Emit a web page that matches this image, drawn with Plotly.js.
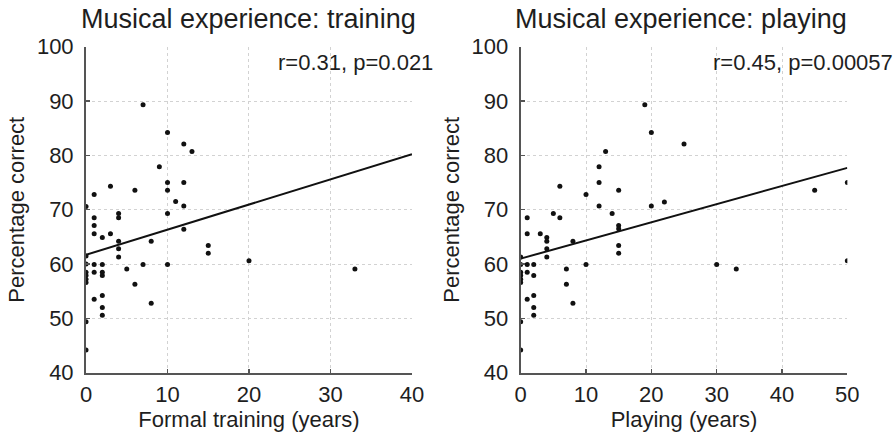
<!DOCTYPE html>
<html>
<head>
<meta charset="utf-8">
<script src="https://cdn.plot.ly/plotly-3.0.1.min.js"></script>
<style>
html,body{margin:0;padding:0;background:#fff;}
#chart{width:896px;height:437px;}
</style>
</head>
<body>
<div id="chart"></div>
<script>
// Panel 1: formal training (years) vs percentage correct
const trainX = [0,0,0,0,0,0,0,0,0,
  1,1,1,1,1,1,1,
  2,2,2,2,2,2,2,
  3,3,
  4,4,4,4,4,
  5,
  6,6,
  7,7,
  8,8,
  9,
  10,10,10,10,10,
  11,
  12,12,12,12,
  13,
  15,15,
  20,
  33];
const trainY = [70.6,61.5,60.0,58.5,57.9,57.2,56.6,49.4,44.2,
  72.8,68.5,67.1,65.6,59.9,58.5,53.5,
  64.9,59.9,58.5,57.9,54.2,52.0,50.6,
  74.3,65.6,
  69.3,68.5,64.2,62.8,61.3,
  59.1,
  73.6,56.3,
  89.3,59.9,
  64.2,52.8,
  77.9,
  84.2,75.0,73.6,69.3,59.9,
  71.5,
  82.1,75.0,70.7,66.4,
  80.7,
  63.4,62.0,
  60.6,
  59.1];
const trainFitX = [0, 40];
const trainFitY = [61.7, 80.2];
const trainStat = "r=0.31, p=0.021";

// Panel 2: playing (years) vs percentage correct
const playX = [0,0,0,0,0,0,0,0,
  1,1,1,1,1,
  2,2,2,2,2,
  3,
  4,4,4,4,
  5,
  6,6,
  7,7,
  8,8,
  10,10,
  12,12,12,
  13,
  14,
  15,15,15,15,15,
  19,
  20,20,
  22,
  25,
  30,
  33,
  45,
  50,50];
const playY = [61.3,59.9,58.5,57.9,57.2,56.6,49.4,44.2,
  68.5,65.6,59.9,58.5,53.5,
  59.9,57.9,54.2,52.0,50.6,
  65.6,
  64.9,64.2,62.8,61.3,
  69.3,
  74.3,68.5,
  59.1,56.3,
  64.2,52.8,
  72.8,59.9,
  77.9,75.0,70.7,
  80.7,
  69.3,
  73.6,67.1,66.5,63.4,62.0,
  89.3,
  84.2,70.7,
  71.4,
  82.1,
  59.9,
  59.1,
  73.6,
  75.0,60.6];
const playFitX = [0, 50];
const playFitY = [61.0, 77.7];
const playStat = "r=0.45, p=0.00057";

const titles = ["Musical experience: training", "Musical experience: playing"];
const xTitles = ["Formal training (years)", "Playing (years)"];
const yTitle = "Percentage correct";

const FONT = "Liberation Sans, Arial, sans-serif";
const TXT = "#1e1e1e";

const marker = {color: "#111", size: 5};
const lineStyle = {color: "#111", width: 2};

const traces = [
  {x: trainX, y: trainY, mode: "markers", type: "scatter", marker: marker, xaxis: "x", yaxis: "y", hoverinfo: "x+y"},
  {x: trainFitX, y: trainFitY, mode: "lines", type: "scatter", line: lineStyle, xaxis: "x", yaxis: "y"},
  {x: playX, y: playY, mode: "markers", type: "scatter", marker: marker, xaxis: "x2", yaxis: "y2", hoverinfo: "x+y"},
  {x: playFitX, y: playFitY, mode: "lines", type: "scatter", line: lineStyle, xaxis: "x2", yaxis: "y2"}
];

function xAxis(domain, range, dtick, title, anchor) {
  return {
    domain: domain, range: range, dtick: dtick, tick0: 0, anchor: anchor,
    showgrid: true, gridcolor: "#d2d2d2", griddash: "dot", gridwidth: 1,
    showline: true, linecolor: "#555", linewidth: 2,
    ticks: "inside", ticklen: 4, tickwidth: 1.5, tickcolor: "#555",
    zeroline: false, fixedrange: true,
    tickfont: {family: FONT, size: 22, color: TXT},
    ticklabelstandoff: 1,
    title: {text: title, font: {family: FONT, size: 22, color: TXT}, standoff: 0}
  };
}
function yAxis(anchor) {
  return {
    domain: [0.1471, 0.8931], range: [40, 100], dtick: 10, anchor: anchor,
    showgrid: true, gridcolor: "#d2d2d2", griddash: "dot", gridwidth: 1,
    showline: true, linecolor: "#555", linewidth: 2,
    ticks: "inside", ticklen: 4, tickwidth: 1.5, tickcolor: "#555",
    zeroline: false, fixedrange: true,
    tickfont: {family: FONT, size: 22, color: TXT},
    ticklabelstandoff: 6,
    title: {text: yTitle, font: {family: FONT, size: 22, color: TXT}, standoff: 6}
  };
}

const layout = {
  width: 896, height: 437,
  margin: {l: 0, r: 0, t: 0, b: 0},
  paper_bgcolor: "#fff", plot_bgcolor: "#fff",
  showlegend: false,
  xaxis: xAxis([0.0960, 0.4598], [0, 40], 10, xTitles[0], "y"),
  yaxis: yAxis("x"),
  xaxis2: xAxis([0.5811, 0.9457], [0, 50], 10, xTitles[1], "y2"),
  yaxis2: yAxis("x2"),
  annotations: [
    {text: titles[0], xref: "x domain", yref: "paper", x: 0.5, y: 1 - 19/437, xanchor: "center", yanchor: "middle", showarrow: false, font: {family: FONT, size: 27, color: TXT}},
    {text: titles[1], xref: "x2 domain", yref: "paper", x: 0.49, y: 1 - 19/437, xanchor: "center", yanchor: "middle", showarrow: false, font: {family: FONT, size: 27, color: TXT}},
    {text: trainStat, xref: "x domain", yref: "y domain", x: 0.583, y: 0.953, xanchor: "left", yanchor: "middle", showarrow: false, font: {family: FONT, size: 22, color: TXT}},
    {text: playStat, xref: "x2 domain", yref: "y2 domain", x: 0.583, y: 0.953, xanchor: "left", yanchor: "middle", showarrow: false, font: {family: FONT, size: 22, color: TXT}}
  ]
};

Plotly.newPlot("chart", traces, layout, {displayModeBar: false, staticPlot: true});
</script>
</body>
</html>
